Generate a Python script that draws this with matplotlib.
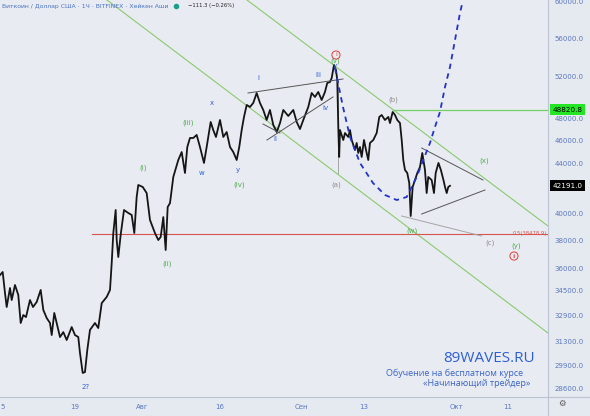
import matplotlib.pyplot as plt
from matplotlib.lines import Line2D
from matplotlib.ticker import NullLocator
from matplotlib.transforms import blended_transform_factory

# BTC/USD 1h Heikin Ashi (Bitfinex), days counted from 1 July 2021
price_day = [3.42, 3.94, 4.39, 4.72, 5.36, 5.69, 6.33, 6.97, 7.44, 7.94,
             8.47, 9.24, 9.83, 10.54, 11.32, 11.83, 12.49, 13.13, 13.46, 13.96,
             14.43, 15.07, 15.71, 16.37, 17.34, 17.98, 18.62, 18.95, 19.48, 19.92,
             20.37, 20.89, 21.86, 22.50, 23.17, 24.14, 24.78, 25.11, 25.42, 25.88,
             26.08, 26.39, 26.85, 27.50, 28.33, 28.99, 29.50, 29.96, 30.27, 31.13,
             31.90, 32.54,
             33.51, 34.16, 34.62, 35.13, 35.59, 35.98, 36.43, 37.07, 38.04, 38.70,
             39.34, 39.79, 40.31, 40.95, 41.61, 42.25, 43.03, 43.55, 44.33, 44.83,
             45.36, 46.14, 46.78, 47.44, 48.08, 48.72, 49.38, 49.88, 50.35, 50.80,
             51.32, 51.96, 52.60, 53.26, 53.90, 54.54, 55.20, 55.84, 56.49, 57.15,
             57.79, 58.43, 59.40, 60.37, 61.03, 61.67, 62.31, 63.28, 63.94, 64.58,
             65.22, 65.88, 66.52, 66.97, 67.50, 67.83, 68.27, 68.66, 68.91, 69.11,
             69.28,
             69.44, 70.08, 70.41, 71.05, 71.38, 71.71, 72.35, 72.68, 72.99, 73.32,
             73.65, 74.10, 74.49, 74.93, 75.26, 75.90, 76.56, 77.07, 77.53, 78.17,
             78.82, 79.15, 79.67, 80.12, 80.56, 81.09, 81.42, 81.73, 82.06, 82.50,
             82.89, 83.17, 83.55, 84.00, 84.45, 84.97, 85.42, 85.94, 86.27, 86.58,
             87.24, 87.69, 88.02, 88.56, 89.03, 89.53, 89.83, 90.16, 90.47, 90.80]
price_val = [35560, 35770, 34360, 33450, 34690, 33900, 34890, 34230, 32440, 32940,
             32810, 33900, 33450, 33770, 34560, 33260, 32750, 32440, 31700, 33070,
             32440, 31580, 31880, 31400, 32190, 31700, 31580, 30630, 29480, 29530,
             30800, 32010, 32440, 32130, 33700, 34100, 34560, 36390, 38540, 40280,
             38030, 36810, 38400, 40280, 40050, 39900, 38540, 41300, 42260, 42100,
             41610, 39520,
             38540, 38030, 38250, 39740, 37310, 40510, 40820, 42910, 44330, 45010,
             43240, 45450, 46240, 46240, 46510, 45450, 44080, 45450, 47680, 46950,
             46330, 47860, 46330, 46770, 45450, 45010, 44330, 45450, 46950, 48140,
             49260, 49070, 49450, 50400, 49450, 48790, 47860, 48790, 47400, 46770,
             47580, 48790, 48230, 48790, 47680, 47040, 47860, 49070, 50400, 50020,
             50500, 49730, 50500, 51380, 51470, 51870, 53180, 52670, 51670, 47220,
             44590,
             46950, 46060, 46680, 46330, 46950, 46060, 45190, 45800, 44930, 45450,
             44590, 46060, 45190, 44330, 45800, 46060, 46680, 48140, 48320, 47860,
             48140, 47580, 48600, 48320, 47860, 47580, 46060, 44330, 43490, 43240,
             42420, 39820, 42100, 42660, 43240, 43740, 44930, 43490, 41610, 42910,
             42660, 41610, 43240, 44080, 43490, 42660, 42100, 41610, 42100, 42191]
last_price = 42191.0

# projected path (blue dashed)
curve_day = [68.47, 70.02, 71.38, 73.32, 75.84, 78.17, 80.45, 82.39, 84.33,
             85.61, 86.91, 87.88, 88.85, 89.83, 90.80, 91.77, 92.74, 93.19]
curve_val = [52870, 49070, 46330, 44080, 42420, 41460, 41060, 41296, 42909,
             44330, 45797, 47224, 48600, 50984, 52975, 55787, 58749, 59885]

# levels
fib_level = 38478.9
resist_level = 48820.8

# channel (green) and drawn trend lines: (day1, day2), (price1, price2)
channel_lo = ([24.19, 109.83], [60230, 31824])
channel_hi = ([51.38, 109.83], [60230, 39064])
dark_lines = [([51.57, 70.02], [50400, 51772]),
              ([55.26, 68.08], [46060, 50020]),
              ([54.49, 57.79], [47495, 46680]),
              ([85.30, 97.20], [45361, 42663]),
              ([85.30, 97.59], [39973, 41854])]
light_lines = [([68.99, 68.99], [51670, 43240]),
               ([81.42, 96.95], [39820, 38323])]

# wave labels: day, price, text, colour
wave_labels = [(20.12, 28700, '2?', 'blue'),
               (31.18, 43655, '(i)', 'green'),
               (35.84, 36322, '(ii)', 'green'),
               (39.92, 47586, '(iii)', 'green'),
               (44.58, 49445, 'x', 'blue'),
               (42.64, 43239, 'w', 'blue'),
               (49.63, 43489, 'y', 'blue'),
               (49.83, 42300, '(iv)', 'green'),
               (53.51, 51871, 'i', 'blue'),
               (56.82, 46150, 'ii', 'blue'),
               (65.17, 52169, 'iii', 'blue'),
               (66.52, 48973, 'iv', 'blue'),
               (68.47, 53077, 'v', 'blue'),
               (68.47, 53588, '(v)', 'green'),
               (68.66, 42300, '(a)', 'grey'),
               (79.73, 49730, '(b)', 'grey'),
               (83.42, 38692, '(w)', 'green'),
               (97.40, 44245, '(x)', 'green'),
               (98.56, 37813, '(c)', 'grey'),
               (103.61, 37597, '(y)', 'green')]
circled_labels = [(68.66, 54207, 'i'), (103.22, 36883, 'ii')]

ytick_vals = [60000, 56000, 52000, 48000, 46000, 44000, 40000, 38000,
              36000, 34500, 32900, 31300, 29900, 28600]
xtick_days = [4, 18, 31, 46, 62, 74, 92, 102]
xtick_labels = ['5', '19', 'Авг', '16', 'Сен', '13', 'Окт', '11']

colors = {'blue': '#2f63d6', 'green': '#4fae4c', 'grey': '#8e8e8e', 'red': '#e0403a'}

# ---------------- figure -----------------
W, H = 590, 416
fig = plt.figure(figsize=(W / 100, H / 100), dpi=100)
fig.patch.set_facecolor('#e5e9f0')
ax = fig.add_axes([0, 19 / H, 548 / W, 397 / H])
ax.set_facecolor('#e8ebf1')

ax.plot(price_day, price_val, color='#151515', lw=1.3, zorder=5)

ax.plot(*channel_lo, color='#8acb6e', lw=0.8, zorder=3)
ax.plot(*channel_hi, color='#8acb6e', lw=0.8, zorder=3)
ax.plot([79.73, 110], [resist_level] * 2, color='#72d067', lw=0.9, zorder=3)
ax.plot([21.28, 110], [fib_level] * 2, color='#d9534f', lw=0.8, zorder=3)

for xs, ys in dark_lines:
    ax.plot(xs, ys, color='#555555', lw=0.7, zorder=6)
for xs, ys in light_lines:
    ax.plot(xs, ys, color='#a5a5a5', lw=0.7, zorder=4)

ax.plot(curve_day, curve_val, color='#2233c9', lw=1.3, ls=(0, (3, 2.5)), zorder=7)

for d, p, s, c in wave_labels:
    ax.text(d, p, s, color=colors[c], fontsize=5, ha='center', va='center', zorder=8)
for d, p, s in circled_labels:
    ax.text(d, p, s, color=colors['red'], fontsize=4.5, ha='center', va='center', zorder=8,
            bbox=dict(boxstyle='circle,pad=0.25', fc='none', ec=colors['red'], lw=0.7))

ax.text(109.6, fib_level, '0.5(38478.9)', color='#d9534f', fontsize=3.8,
        ha='right', va='center', zorder=8)

# axes
ax.set_yscale('log')
ax.set_xlim(3.42, 109.83)
ax.set_ylim(28153, 60230)
ax.yaxis.tick_right()
ax.set_yticks(ytick_vals)
ax.set_yticklabels([f'{v:.1f}' for v in ytick_vals])
ax.yaxis.set_minor_locator(NullLocator())
ax.set_xticks(xtick_days)
ax.set_xticklabels(xtick_labels)
ax.tick_params(axis='y', length=0, pad=4.5, labelsize=5, labelcolor='#5a78c0')
ax.tick_params(axis='x', length=0, pad=5, labelsize=5, labelcolor='#5a78c0')
for side in ['top', 'left']:
    ax.spines[side].set_visible(False)
for side in ['right', 'bottom']:
    ax.spines[side].set_color('#bcc4d3')
    ax.spines[side].set_linewidth(0.8)
fig.add_artist(Line2D([548 / W, 548 / W], [0, 19 / H], color='#bcc4d3', lw=0.8))
fig.add_artist(Line2D([548 / W, 1], [19 / H, 19 / H], color='#bcc4d3', lw=0.8))

# price boxes on the axis
tr = blended_transform_factory(ax.transAxes, ax.transData)
ax.text(1.008, resist_level, f'{resist_level:.1f}', transform=tr, fontsize=5.2,
        color='black', ha='left', va='center', clip_on=False, zorder=10,
        bbox=dict(boxstyle='square,pad=0.35', fc='#25e625', ec='none'))
ax.text(1.008, last_price, f'{last_price:.1f}', transform=tr, fontsize=5.2,
        color='white', ha='left', va='center', clip_on=False, zorder=10,
        bbox=dict(boxstyle='square,pad=0.35', fc='black', ec='none'))
fig.text(562 / W, 1 - 403 / H, '⚙', fontsize=6, color='#555555', ha='center', va='center')

# header
fig.text(2 / W, 1 - 6 / H, 'Биткоин / Доллар США · 1Ч · BITFINEX · Хейкен Аши',
         fontsize=4.4, color='#4a72c4', va='center')
fig.add_artist(Line2D([176 / W], [1 - 6 / H], marker='o', ms=3, color='#1b9e8a', lw=0))
fig.text(188 / W, 1 - 6 / H, '−111.3 (−0.26%)', fontsize=3.8, color='#222222', va='center')

# watermark
fig.text(535 / W, 1 - 359 / H, '89WAVES.RU', fontsize=11, color='#2c5fd6',
         ha='right', va='center', family='Open Sans')
fig.text(523 / W, 1 - 373.5 / H, 'Обучение на бесплатном курсе', fontsize=6.5,
         color='#3a64c8', ha='right', va='center', family='Open Sans')
fig.text(530 / W, 1 - 383.5 / H, '«Начинающий трейдер»', fontsize=6.5,
         color='#3a64c8', ha='right', va='center', family='Open Sans')

fig.savefig('out.png', dpi=100, facecolor=fig.get_facecolor())
